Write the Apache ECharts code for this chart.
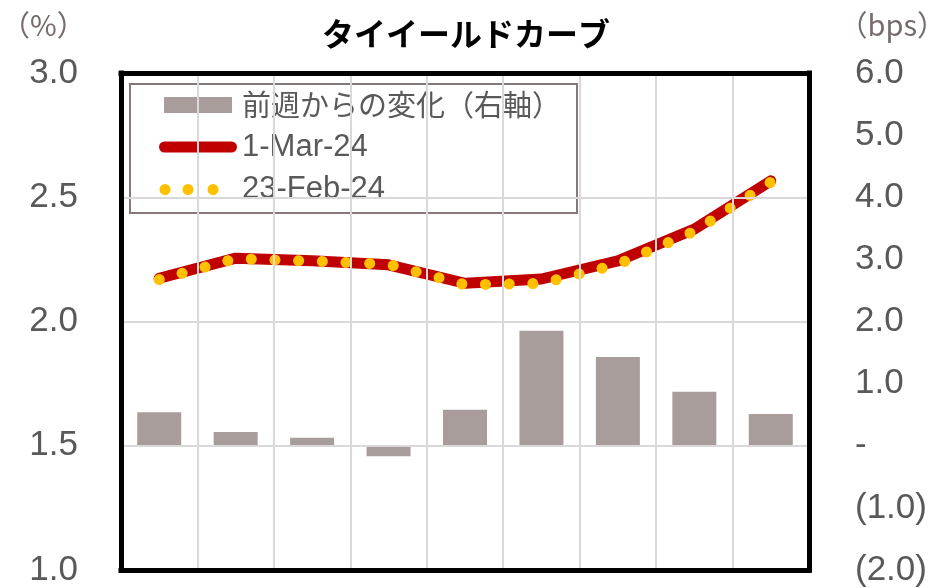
<!DOCTYPE html>
<html>
<head>
<meta charset="utf-8">
<script src="https://cdn.jsdelivr.net/npm/echarts@6/dist/echarts.min.js"></script>
<style>
html,body{margin:0;padding:0;background:#fff;}
#chart{width:945px;height:588px;}
</style>
</head>
<body>
<div id="chart"></div>
<script>
// Data
var categories = ['T1', 'T2', 'T3', 'T4', 'T5', 'T6', 'T7', 'T8', 'T9'];
var mar24 = [2.174, 2.255, 2.244, 2.228, 2.154, 2.171, 2.244, 2.372, 2.566];
var feb24 = [2.169, 2.253, 2.243, 2.230, 2.148, 2.153, 2.230, 2.363, 2.561];
var changeBps = [0.54, 0.22, 0.13, -0.17, 0.58, 1.85, 1.43, 0.87, 0.51];
var seriesNames = ['前週からの変化（右軸）', '1-Mar-24', '23-Feb-24'];
var titleText = 'タイイールドカーブ';
var leftUnit = '（%）';
var rightUnit = '（bps）';

var chart = echarts.init(document.getElementById('chart'), null, {renderer: 'canvas'});
var latin = 'Liberation Sans, Arial, Noto Sans CJK JP, sans-serif';
var cjk = 'Noto Sans CJK JP, sans-serif';
var labelColor = '#595959';
var frame = {show: true, onZero: false, lineStyle: {color: '#000', width: 5, cap: 'square'}};

var iconBar = 'path://M0,0H68V16H0Z';
var iconRed = 'path://M5.5,0H72.5A5.5,5.5 0 0 1 72.5,11H5.5A5.5,5.5 0 0 1 5.5,0Z';
var iconDots = 'path://M0,0L0,0M78,16L78,16' +
  'M0.5,8a5.5,5.5 0 1 0 11,0a5.5,5.5 0 1 0 -11,0Z' +
  'M23.5,8a5.5,5.5 0 1 0 11,0a5.5,5.5 0 1 0 -11,0Z' +
  'M48.5,8a5.5,5.5 0 1 0 11,0a5.5,5.5 0 1 0 -11,0Z';

var option = {
  backgroundColor: '#ffffff',
  animation: false,
  title: [
    {text: titleText, left: 461, top: 13, textAlign: 'center',
     textStyle: {fontFamily: cjk, fontSize: 32, fontWeight: 'bold', color: '#000'}},
    {text: leftUnit, left: -4, top: 5,
     textStyle: {fontFamily: cjk, fontSize: 29, fontWeight: 'normal', color: '#776b6b'}},
    {text: rightUnit, right: -6, top: 5,
     textStyle: {fontFamily: cjk, fontSize: 29, fontWeight: 'normal', color: '#776b6b'}}
  ],
  grid: {
    left: 121, right: 136, top: 73, bottom: 18, show: false
  },
  legend: {
    orient: 'vertical',
    left: 130, top: 84,
    padding: [6, 16, 8, 29],
    itemWidth: 78, itemHeight: 16, itemGap: 11.5,
    symbolKeepAspect: true,
    borderColor: '#857878', borderWidth: 2, backgroundColor: '#fff',
    selectedMode: false,
    textStyle: {fontFamily: latin, fontSize: 31, color: labelColor, lineHeight: 30,
      rich: {j: {fontFamily: cjk, fontSize: 29, color: labelColor, lineHeight: 30}}},
    formatter: function (name) {
      return name === seriesNames[0] ? '{j|' + name + '}' : name;
    },
    data: [
      {name: seriesNames[0], icon: iconBar, itemStyle: {color: '#a99d9b'}},
      {name: seriesNames[1], icon: iconRed, itemStyle: {color: '#c00000'}},
      {name: seriesNames[2], icon: iconDots, itemStyle: {color: '#ffc000'}}
    ]
  },
  xAxis: [
    {
      type: 'category', data: categories, boundaryGap: true, position: 'bottom',
      axisLine: frame, axisTick: {show: false}, axisLabel: {show: false},
      splitLine: {show: true, lineStyle: {color: '#d9d9d9', width: 2}}, z: 5
    },
    {
      type: 'category', data: categories, boundaryGap: true, position: 'top',
      axisLine: frame, axisTick: {show: false}, axisLabel: {show: false},
      splitLine: {show: false}, z: 5
    }
  ],
  yAxis: [
    {
      type: 'value', min: 1, max: 3, interval: 0.5, position: 'left',
      axisLine: frame, axisTick: {show: false},
      axisLabel: {fontFamily: latin, fontSize: 35, color: labelColor, margin: 43,
        formatter: function (v) { return v.toFixed(1); }},
      splitLine: {show: true, lineStyle: {color: '#d9d9d9', width: 2}}, z: 5
    },
    {
      type: 'value', min: -2, max: 6, interval: 1, position: 'right',
      axisLine: frame, axisTick: {show: false},
      axisLabel: {fontFamily: latin, fontSize: 35, color: labelColor, margin: 46,
        formatter: function (v) {
          if (Math.abs(v) < 1e-9) return '-';
          if (v < 0) return '(' + Math.abs(v).toFixed(1) + ')';
          return v.toFixed(1);
        }},
      splitLine: {show: false}, z: 5
    }
  ],
  series: [
    {
      name: seriesNames[0], type: 'bar', yAxisIndex: 1, data: changeBps,
      barWidth: 44, itemStyle: {color: '#a99d9b'}, z: 2
    },
    {
      name: seriesNames[1], type: 'line', yAxisIndex: 0, data: mar24,
      symbol: 'none', smooth: false, color: '#c00000',
      lineStyle: {color: '#c00000', width: 11, cap: 'round', join: 'round'}, z: 3
    },
    {
      name: seriesNames[2], type: 'line', yAxisIndex: 0, data: feb24,
      symbol: 'none', smooth: false, color: '#ffc000',
      lineStyle: {color: '#ffc000', width: 11, type: [0.1, 23.6], cap: 'round'}, z: 4
    }
  ]
};
chart.setOption(option);
</script>
</body>
</html>
